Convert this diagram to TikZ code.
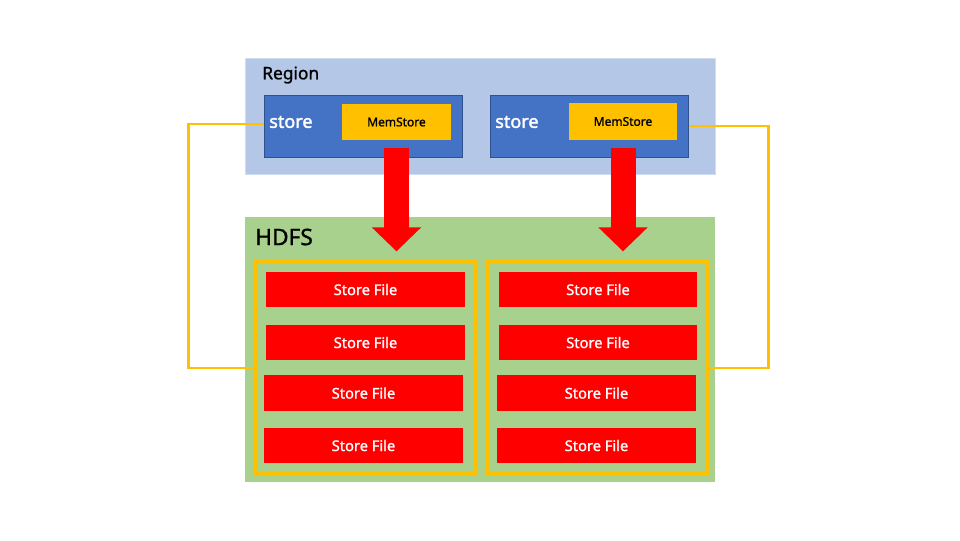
\documentclass[tikz,border=0pt]{standalone}
\usepackage{fontspec}
\setmainfont{Noto Sans}
\newfontfamily\medfont{Noto Sans}[FakeBold=1.2]
\newfontfamily\semifont{Noto Sans}[FakeBold=2]
\usetikzlibrary{arrows.meta}
\definecolor{regfill}{HTML}{B4C7E7}
\definecolor{regline}{HTML}{D0DCEF}
\definecolor{storefill}{HTML}{4472C4}
\definecolor{storeline}{HTML}{2F528F}
\definecolor{memfill}{HTML}{FFC000}
\definecolor{hdfsfill}{HTML}{A9D18E}
\definecolor{sfred}{HTML}{FF0000}
\definecolor{yel}{HTML}{FFC000}
\tikzset{
  px/.style={x=0.75pt,y=-0.75pt},
  wh/.style 2 args={minimum width={#1*0.75pt}, minimum height={#2*0.75pt}},
  regionbox/.style={draw=regline, line width=0.75pt, fill=regfill, inner sep=0pt},
  storebox/.style={draw=storeline, line width=0.75pt, fill=storefill, inner sep=0pt},
  membox/.style={fill=memfill, inner sep=0pt, font=\medfont\fontsize{9}{10}\selectfont, text=black},
  hdfsbox/.style={fill=hdfsfill, inner sep=0pt},
  filebox/.style={fill=sfred, inner sep=0pt, text=white, font=\medfont\fontsize{11}{12}\selectfont},
  groupbox/.style={draw=yel, line width=2.5pt, inner sep=0pt},
  yline/.style={draw=yel, line width=1.6pt},
  flushar/.style={draw=sfred, line width=18.75pt, -{Triangle[width=36pt,length=18pt]}},
}
\begin{document}
\begin{tikzpicture}[px]
\useasboundingbox (0,0) rectangle (960,540);
\fill[white] (0,0) rectangle (960,540);
% Region
\node[regionbox, wh={470}{116}] (region) at (480,116) {};
\node[anchor=west, inner sep=0pt, font=\medfont\fontsize{13}{14}\selectfont] (regionlbl) at (262,75) {Region};
\node[storebox, wh={198}{62}] (st1) at (363,126) {};
\node[storebox, wh={198}{62}] (st2) at (589,126) {};
\node[anchor=west, inner sep=0pt, text=white, font=\semifont\fontsize{13.5}{14}\selectfont] (st1lbl) at (269,122) {store};
\node[anchor=west, inner sep=0pt, text=white, font=\semifont\fontsize{13.5}{14}\selectfont] (st2lbl) at (495,122) {store};
\node[membox, wh={109}{36}] (mem1) at (396.5,122) {MemStore};
\node[membox, wh={108}{37}] (mem2) at (623,121.5) {MemStore};
% HDFS
\node[hdfsbox, wh={470}{265}] (hdfs) at (480,349.5) {};
\node[anchor=west, inner sep=0pt, font=\medfont\fontsize{17}{18}\selectfont] (hdfslbl) at (255,237) {HDFS};
\node[groupbox, wh={221}{212}] (yl) at (365.5,368) {};
\node[groupbox, wh={220}{212}] (yr) at (598,368) {};
% store files
\node[filebox, wh={199}{35}] (l1) at (365.5,289.5) {Store File};
\node[filebox, wh={199}{35}] (l2) at (365.5,342.5) {Store File};
\node[filebox, wh={199}{36}] (l3) at (363.5,393) {Store File};
\node[filebox, wh={199}{35}] (l4) at (363.5,445.5) {Store File};
\node[filebox, wh={198}{35}] (r1) at (598,289.5) {Store File};
\node[filebox, wh={198}{35}] (r2) at (598,342.5) {Store File};
\node[filebox, wh={199}{36}] (r3) at (596.5,393) {Store File};
\node[filebox, wh={199}{35}] (r4) at (596.5,445.5) {Store File};
% arrows
\draw[flushar] ([yshift=-6pt]mem1.south) -- ([yshift=6.75pt]mem1.south |- yl.north);
\draw[flushar] ([yshift=-6pt]mem2.south) -- ([yshift=6.75pt]mem2.south |- yr.north);
% yellow connectors
\draw[yline] ([yshift=1.5pt]st1.west) -- ++(-75,0) |- (yl.west);
\draw[yline] (st2.east) -- ++(80,0) |- (yr.east);
\end{tikzpicture}
\end{document}
